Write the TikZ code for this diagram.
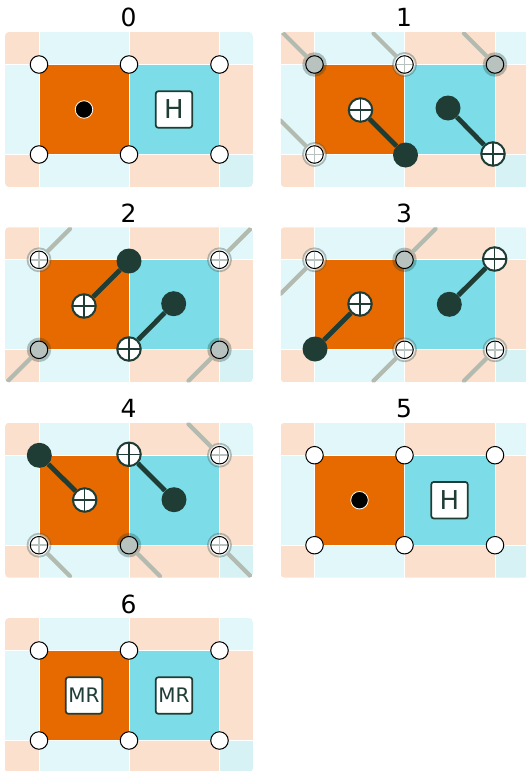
\documentclass[tikz,border=0pt]{standalone}
\usepackage{fontspec}
\setmainfont{DejaVu Sans}
\definecolor{peach}{HTML}{FAE0CD}
\definecolor{icy}{HTML}{E2F7FA}
\definecolor{icydark}{HTML}{D6F2F5}
\definecolor{orangeplaq}{HTML}{E66A00}
\definecolor{cyanplaq}{HTML}{7CDDE8}
\definecolor{deep}{HTML}{1F3D35}
\definecolor{ghost}{HTML}{B8C2BF}
\definecolor{ghostline}{HTML}{B3BAB0}
\tikzset{
  cell/.style={fill=#1,draw=none},
  panellabel/.style={font=\fontsize{25}{28}\selectfont,text=black,inner sep=0pt,anchor=base},
  qubit/.style={circle,fill=white,draw=black,line width=1pt,minimum size=17.5pt,inner sep=0pt},
  ctrl/.style={circle,fill=deep,draw=none,minimum size=25pt,inner sep=0pt},
  targetq/.style={circle,fill=white,draw=deep,line width=2pt,minimum size=23.5pt,inner sep=0pt,
    path picture={\draw[deep,line width=1.5pt] (path picture bounding box.north)--(path picture bounding box.south)
      (path picture bounding box.west)--(path picture bounding box.east);}},
  cnot/.style={draw=deep,line width=4.8pt},
  idleline/.style={draw=ghostline,line width=4.2pt,line cap=round},
  halo/.style={circle,draw=none,fill=deep,fill opacity=.3,minimum size=24.5pt,inner sep=0pt},
  grayq/.style={qubit,fill=ghost},
  crossq/.style={qubit,
    path picture={\draw[ghost,line width=1.6pt] (path picture bounding box.north)--(path picture bounding box.south)
      (path picture bounding box.west)--(path picture bounding box.east);}},
  ringq/.style={circle,fill=white,fill opacity=.55,draw=deep,draw opacity=.32,line width=1.8pt,minimum size=23pt,inner sep=0pt},
  gatebox/.style={rectangle,rounded corners=2.5pt,fill=white,draw=deep,line width=1.7pt,text=deep,
    minimum size=36.5pt,inner sep=0pt,font=\fontsize{#1}{#1}\selectfont},
  meas/.style={circle,fill=black,draw=white,line width=.8pt,minimum size=17.5pt,inner sep=0pt},
}
\newcommand{\panelclip}{\clip[rounded corners=4pt] (5,32) rectangle (253,187);}
% #1 = x offset, #2 = y offset, #3 = label; opens a scope closed by the caller
\newcommand{\panelbg}[3]{%
  \node[panellabel] (L#3) at (#1+128.5,#2+27) {#3};
  \begin{scope}[shift={(#1,#2)}]
    \begin{scope}
      \panelclip
      \fill[cell=peach]  (5,32) rectangle (38.5,64);
      \fill[cell=icy]    (39.5,32) rectangle (128.5,64);
      \fill[cell=peach]  (129.5,32) rectangle (219,64);
      \fill[cell=icy]    (220,32) rectangle (253,64);
      \fill[cell=icy]    (5,65) rectangle (38.5,154);
      \fill[cell=peach]  (220,65) rectangle (253,154);
      \fill[cell=peach]  (5,155) rectangle (38.5,187);
      \fill[cell=icy]    (39.5,155) rectangle (128.5,187);
      \fill[cell=peach]  (129.5,155) rectangle (219,187);
      \fill[cell=icydark](220,155) rectangle (253,187);
      \fill[cell=orangeplaq] (39.5,65) rectangle (128.5,154);
      \fill[cell=cyanplaq]   (129.5,65) rectangle (219,154);
    \end{scope}
}
% idle qubits: name, x, y, dx, dy
\newcommand{\idlegray}[5]{%
  \coordinate (#1e) at (#2+#4,#3+#5);
  \node[halo] (#1h) at (#2,#3) {};
  \begin{scope}\panelclip
    \draw[idleline] (#1h) -- (#1e);
  \end{scope}
  \node[grayq] (#1) at (#2,#3) {};
}
\newcommand{\idlecross}[5]{%
  \coordinate (#1e) at (#2+#4,#3+#5);
  \node[ringq] (#1h) at (#2,#3) {};
  \begin{scope}\panelclip
    \draw[idleline] (#1h) -- (#1e);
  \end{scope}
  \node[crossq] (#1) at (#2,#3) {};
}
% CNOT: name, ctrl x y, target x y
\newcommand{\cnotq}[5]{%
  \node[ctrl] (#1c) at (#2,#3) {};
  \node[targetq] (#1t) at (#4,#5) {};
  \draw[cnot] (#1c) -- (#1t);
}
\newcommand{\plainq}[1]{%
  \node[qubit] (#1a) at (39,64.5) {};
  \node[qubit] (#1b) at (129,64.5) {};
  \node[qubit] (#1c) at (219.5,64.5) {};
  \node[qubit] (#1d) at (39,154.5) {};
  \node[qubit] (#1e) at (129,154.5) {};
  \node[qubit] (#1f) at (219.5,154.5) {};
}
\begin{document}
\begin{tikzpicture}[x=1pt,y=-1pt]
\useasboundingbox (0,0) rectangle (525,771);
\panelbg{0}{0}{0}
  \plainq{p0}
  \node[meas] (p0m) at (84,109.5) {};
  \node[gatebox=26] (p0h) at (174,109.5) {H};
\end{scope}
\panelbg{275.5}{0}{1}
  \idlegray{p1a}{39}{64.5}{-34}{-34}
  \idlecross{p1b}{129}{64.5}{-31}{-31}
  \idlegray{p1c}{219.5}{64.5}{-31}{-31}
  \idlecross{p1d}{39}{154.5}{-34}{-34}
  \cnotq{p1x}{130}{155}{85}{110}
  \cnotq{p1y}{172.5}{108}{217.5}{154}
\end{scope}
\panelbg{0}{195.3}{2}
  \idlecross{p2a}{39}{64.5}{31}{-31}
  \idlecross{p2b}{219.5}{64.5}{31}{-31}
  \idlegray{p2c}{39}{154.5}{-31}{31}
  \idlegray{p2d}{219.5}{154.5}{-31}{31}
  \cnotq{p2x}{129}{65.7}{84}{110.7}
  \cnotq{p2y}{173.7}{108.4}{129}{153.7}
\end{scope}
\panelbg{275.5}{195.3}{3}
  \idlecross{p3a}{39}{64.5}{-34}{34}
  \idlegray{p3b}{129}{64.5}{31}{-31}
  \idlecross{p3c}{129}{154.5}{-31}{31}
  \idlecross{p3d}{219.5}{154.5}{-31}{31}
  \cnotq{p3x}{39.5}{153.7}{84.5}{108.7}
  \cnotq{p3y}{173.8}{109}{219.2}{63.7}
\end{scope}
\panelbg{0}{390.7}{4}
  \idlecross{p4a}{219.5}{64.5}{-31}{-31}
  \idlecross{p4b}{39}{154.5}{31}{31}
  \idlegray{p4c}{129}{154.5}{31}{31}
  \idlecross{p4d}{219.5}{154.5}{31}{31}
  \cnotq{p4x}{39.3}{64.6}{84.7}{109.3}
  \cnotq{p4y}{174}{109}{129}{63.6}
\end{scope}
\panelbg{275.5}{390.7}{5}
  \plainq{p5}
  \node[meas] (p5m) at (84,109.5) {};
  \node[gatebox=26] (p5h) at (174,109.5) {H};
\end{scope}
\panelbg{0}{586}{6}
  \plainq{p6}
  \node[gatebox=20] (p6l) at (84,109.5) {MR};
  \node[gatebox=20] (p6r) at (174,109.5) {MR};
\end{scope}
\end{tikzpicture}
\end{document}
